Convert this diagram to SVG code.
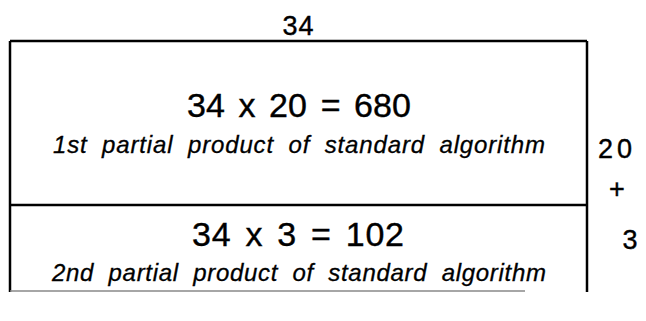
<svg xmlns="http://www.w3.org/2000/svg" width="646" height="321" viewBox="0 0 646 321">
<style>
.ln{stroke:#000;stroke-width:2.5;fill:none}
.eq{font-family:"Liberation Sans",Arial,sans-serif;font-size:34px;word-spacing:4px;fill:#000;stroke:#000;stroke-width:0.4}
.cap{font-family:"Liberation Sans",Arial,sans-serif;font-size:24px;font-style:italic;word-spacing:7px;fill:#000;stroke:#000;stroke-width:0.3}
.lab{font-family:"Liberation Sans",Arial,sans-serif;font-size:27px;fill:#000;stroke:#000;stroke-width:0.4}
</style>
<rect width="646" height="321" fill="#fff"/>
<g id="connectors">
<line class="ln" x1="10" y1="41" x2="587" y2="41"/>
<line class="ln" x1="10" y1="41" x2="10" y2="292"/>
<line class="ln" x1="587" y1="41" x2="587" y2="292"/>
<line class="ln" x1="10" y1="205" x2="587" y2="205"/>
<line x1="10" y1="291" x2="525" y2="291" stroke="#888" stroke-width="1.5"/>
</g>
<g id="top-label"><text class="lab" x="298" y="35" text-anchor="middle" textLength="31">34</text></g>
<g id="box1">
<text class="eq" x="299" y="117" text-anchor="middle" textLength="224" lengthAdjust="spacing">34 x 20 = 680</text>
<text class="cap" x="299" y="153" text-anchor="middle" textLength="492" lengthAdjust="spacing">1st partial product of standard algorithm</text>
</g>
<g id="box2">
<text class="eq" x="298" y="246" text-anchor="middle" textLength="212" lengthAdjust="spacing">34 x 3 = 102</text>
<text class="cap" x="299" y="281" text-anchor="middle" textLength="494" lengthAdjust="spacing">2nd partial product of standard algorithm</text>
</g>
<g id="side-labels">
<text class="lab" x="615" y="158" text-anchor="middle" textLength="34">20</text>
<text class="lab" x="617" y="198" text-anchor="middle">+</text>
<text class="lab" x="630" y="249" text-anchor="middle">3</text>
</g>
</svg>
